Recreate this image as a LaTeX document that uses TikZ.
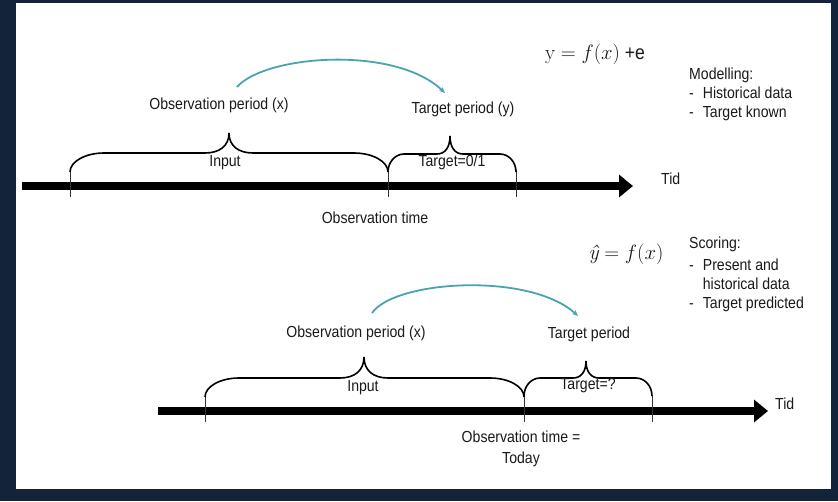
\documentclass[tikz,border=0pt]{standalone}
\usepackage[no-math]{fontspec}
\setmainfont[FakeStretch=0.88]{Liberation Sans}
\newfontfamily\lmrfont{Latin Modern Roman}
\usetikzlibrary{arrows.meta}
\definecolor{navy}{HTML}{13233A}
\definecolor{teal2}{HTML}{4AA3B0}
\definecolor{ink}{HTML}{1A1A1A}
\newcommand{\mybrace}[8]{%
 \draw[bracestyle] (#1,#4) .. controls (#1,{#4-0.55*(#4-#5)}) and ({#1+0.45*#7},#5) .. ({#1+#7},#5)
  -- ({#3-#8},#5) .. controls ({#3-0.4*#8},#5) and (#3,{#5-0.35*(#5-#6)}) .. (#3,#6)
  .. controls (#3,{#5-0.35*(#5-#6)}) and ({#3+0.4*#8},#5) .. ({#3+#8},#5)
  -- ({#2-#7},#5) .. controls ({#2-0.45*#7},#5) and (#2,{#4-0.55*(#4-#5)}) .. (#2,#4);}
\tikzset{
  lbl/.style={text=ink, font=\fontsize{16}{19}\selectfont, inner sep=0pt},
  side/.style={text=ink, inner sep=0pt, anchor=north west, align=left, font=\fontsize{16}{19}\selectfont},
  axis/.style={line width=8pt, -{Triangle[length=14pt,width=22pt]}},
  tick/.style={line width=0.8pt, black!80},
  bracestyle/.style={line width=1.6pt, black},
  arcstyle/.style={line width=1.8pt, teal2, -{Stealth[length=6pt,width=5pt]}},
}
\begin{document}
\begin{tikzpicture}[x=1pt,y=-1pt]
\useasboundingbox (0,0) rectangle (838,501);
\fill[navy] (0,0) rectangle (838,501);
\fill[white] (16,3) rectangle (831,489);

% ---------- top timeline ----------
\coordinate (ax1s) at (22,186);
\coordinate (ax1e) at (633,186);
\draw[axis] (ax1s) -- (ax1e);
\coordinate (t1a) at (70,170); \coordinate (t1b) at (70,197);
\coordinate (t2a) at (388,170); \coordinate (t2b) at (388,197);
\coordinate (t3a) at (516,170); \coordinate (t3b) at (516,197);
\draw[tick] (t1a) -- (t1b);
\draw[tick] (t2a) -- (t2b);
\draw[tick] (t3a) -- (t3b);
\mybrace{70}{388}{229}{172}{153}{133}{34}{24}
\mybrace{388}{516}{450}{172}{154}{136}{16}{13}

\node[lbl] (obs1) at (219,105) {Observation period (x)};
\node[lbl] (tgt1) at (463,109) {Target period (y)};
\node[lbl] (in1) at (225,163) {Input};
\node[lbl] (tg01) at (452,162) {Target=0/1};
\node[lbl] (ot1) at (375,218) {Observation time};
\node[lbl, anchor=west] (tid1) at (661,179) {Tid};
\coordinate (arc1s) at (237,87);
\coordinate (arc1e) at (445,93);
\draw[arcstyle] (arc1s) .. controls (265,55) and (395,45) .. (arc1e);

\node[text=ink, inner sep=0pt, font=\fontsize{20}{24}\selectfont] (eq1) at (595,54) {$\mathrm{y}=f(x)$ +e};
\node[side] (mod) at (689,66)
 {\begin{tabular}{@{}l@{\hspace{9pt}}l@{}}\multicolumn{2}{@{}l}{Modelling:}\\ - & Historical data\\ - & Target known\end{tabular}};

% ---------- bottom timeline ----------
\coordinate (ax2s) at (158,411);
\coordinate (ax2e) at (768,411);
\draw[axis] (ax2s) -- (ax2e);
\coordinate (u1a) at (205,396); \coordinate (u1b) at (205,422);
\coordinate (u2a) at (524,396); \coordinate (u2b) at (524,422);
\coordinate (u3a) at (652,396); \coordinate (u3b) at (652,422);
\draw[tick] (u1a) -- (u1b);
\draw[tick] (u2a) -- (u2b);
\draw[tick] (u3a) -- (u3b);
\mybrace{205}{524}{364}{397}{378}{357}{34}{24}
\mybrace{524}{652}{586}{396}{378}{361}{16}{13}

\node[lbl] (obs2) at (356,333) {Observation period (x)};
\node[lbl] (tgt2) at (589,334) {Target period};
\node[lbl] (in2) at (363,388) {Input};
\node[lbl] (tgq) at (588,386) {Target=?};
\node[lbl, align=center, font=\fontsize{16}{21}\selectfont] (ot2) at (521,449) {Observation time =\\Today};
\node[lbl, anchor=west] (tid2) at (775,404) {Tid};
\coordinate (arc2s) at (372,313);
\coordinate (arc2e) at (578,316);
\draw[arcstyle] (arc2s) .. controls (395,280) and (530,272) .. (arc2e);

\node[text=ink, inner sep=0pt, font=\fontsize{21}{25}\selectfont] (eq2) at (626,254) {{\lmrfont\itshape ŷ}${}=f(x)$};
\node[side] (sco) at (689,235)
 {\begin{tabular}{@{}l@{\hspace{9pt}}l@{}}\multicolumn{2}{@{}l}{Scoring:}\\[3pt] - & Present and\\ & historical data\\ - & Target predicted\end{tabular}};
\end{tikzpicture}
\end{document}
